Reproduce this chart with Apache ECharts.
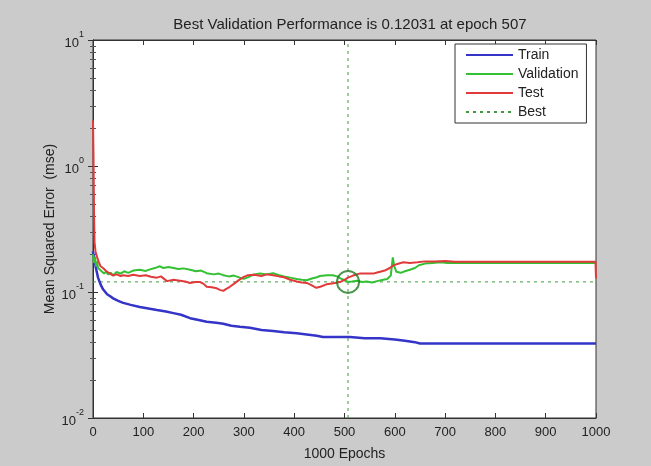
<!DOCTYPE html>
<html>
<head>
<meta charset="utf-8">
<script src="https://cdn.jsdelivr.net/npm/echarts@6/dist/echarts.min.js"></script>
<style>
html,body{margin:0;padding:0;background:#cbcbcb;}
#chart{width:651px;height:466px;}
</style>
</head>
<body>
<div id="chart"></div>
<script>
// ---- data (epoch, mse) ----
var titleText = 'Best Validation Performance is 0.12031 at epoch 507';
var xTicks = [0, 100, 200, 300, 400, 500, 600, 700, 800, 900, 1000];
var yTicks = [0.01, 0.1, 1, 10];
var bestEpoch = 507;
var bestValue = 0.12031;

var trainData = [[0,0.21],[5,0.16],[10,0.13],[15,0.115],[20,0.105],[28,0.096],[35,0.092],[40,0.089],[50,0.085],[60,0.082],[75,0.079],[93,0.076],[110,0.074],[127,0.072],[145,0.070],[160,0.068],[175,0.066],[193,0.062],[210,0.060],[226,0.058],[245,0.057],[259,0.056],[275,0.054],[292,0.053],[312,0.052],[335,0.050],[358,0.049],[380,0.048],[405,0.047],[425,0.046],[445,0.045],[457,0.044],[480,0.044],[511,0.044],[540,0.043],[571,0.043],[600,0.042],[620,0.041],[640,0.040],[650,0.039],[1000,0.039]];

var validData = [[0,0.2],[2,0.17],[4,0.19],[6,0.16],[8,0.175],[10,0.155],[14,0.15],[18,0.145],[22,0.14],[26,0.145],[30,0.138],[35,0.142],[40,0.136],[47,0.144],[55,0.14],[62,0.146],[70,0.142],[80,0.148],[93,0.15],[105,0.147],[115,0.152],[125,0.156],[133,0.16],[140,0.155],[150,0.158],[160,0.155],[170,0.152],[180,0.154],[193,0.15],[205,0.146],[215,0.148],[226,0.141],[240,0.138],[250,0.14],[259,0.136],[270,0.133],[280,0.135],[292,0.13],[300,0.127],[310,0.132],[320,0.138],[332,0.14],[345,0.138],[358,0.141],[370,0.136],[380,0.133],[392,0.13],[405,0.127],[415,0.125],[425,0.124],[435,0.128],[445,0.131],[451,0.134],[465,0.136],[477,0.136],[485,0.133],[491,0.129],[500,0.124],[507,0.12031],[515,0.121],[525,0.123],[535,0.12],[544,0.121],[555,0.119],[565,0.122],[577,0.125],[585,0.127],[592,0.135],[596,0.188],[599,0.16],[603,0.145],[612,0.142],[620,0.146],[630,0.15],[640,0.155],[648,0.163],[660,0.168],[675,0.17],[690,0.172],[705,0.17],[720,0.17],[1000,0.17]];

var testData = [[0,2.3],[1,1.2],[2,0.45],[3,0.25],[5,0.21],[8,0.19],[11,0.175],[15,0.16],[20,0.155],[25,0.148],[30,0.143],[34,0.14],[40,0.135],[47,0.138],[55,0.134],[60,0.136],[70,0.134],[80,0.137],[93,0.134],[105,0.136],[115,0.132],[127,0.13],[135,0.133],[147,0.122],[160,0.125],[173,0.123],[183,0.121],[193,0.118],[203,0.12],[213,0.12],[220,0.116],[226,0.11],[236,0.109],[246,0.107],[252,0.104],[259,0.102],[265,0.106],[272,0.11],[280,0.116],[292,0.126],[300,0.132],[308,0.136],[320,0.137],[335,0.134],[345,0.138],[358,0.136],[370,0.133],[380,0.131],[392,0.125],[405,0.121],[415,0.119],[425,0.118],[435,0.113],[444,0.108],[452,0.11],[464,0.115],[475,0.117],[491,0.12],[500,0.125],[507,0.13],[517,0.135],[530,0.14],[545,0.14],[557,0.14],[565,0.143],[571,0.145],[580,0.148],[590,0.155],[597,0.162],[605,0.167],[617,0.172],[630,0.17],[645,0.172],[660,0.175],[680,0.175],[700,0.176],[720,0.174],[999,0.174],[1000,0.128]];

// Best: horizontal line across the axis, break, then vertical line through the axis
var bestData = [[0,bestValue],[1000,bestValue],[bestEpoch,'-'],[bestEpoch,0.01],[bestEpoch,10]];

var FONT = 'Liberation Sans, Arial, sans-serif';
var chart = echarts.init(document.getElementById('chart'));

function supLabel(v){
  var e = Math.round(Math.log(v)/Math.LN10);
  return '{b|10}{s|' + e + '}';
}

var commonX = {
  type: 'value', min: 0, max: 1000, interval: 100,
  axisLine: {show: true, lineStyle: {color: '#333', width: 1}},
  axisTick: {show: true, inside: true, length: 5, lineStyle: {color: '#333'}},
  splitLine: {show: false}
};
var commonY = {
  type: 'log', logBase: 10, min: 0.01, max: 10,
  axisLine: {show: true, lineStyle: {color: '#333', width: 1}},
  axisTick: {show: true, inside: true, length: 5, lineStyle: {color: '#333'}},
  minorTick: {show: true, splitNumber: 9, length: 3, lineStyle: {color: '#555'}},
  splitLine: {show: false}
};

chart.setOption({
  backgroundColor: '#cbcbcb',
  animation: false,
  title: {
    text: titleText, left: 345, top: 12, textAlign: 'center',
    textStyle: {fontFamily: FONT, fontSize: 15, fontWeight: 'normal', color: '#222'}
  },
  grid: {left: 93, right: 55, top: 40, bottom: 48, show: true, backgroundColor: '#ffffff', borderColor: '#333', borderWidth: 1},
  legend: {
    orient: 'vertical', left: 455, top: 44,
    padding: [4, 8, 4, 10], itemGap: 5, itemWidth: 47, itemHeight: 16,
    backgroundColor: '#ffffff', borderColor: '#333', borderWidth: 1,
    itemStyle: {opacity: 0},
    textStyle: {fontFamily: FONT, fontSize: 14, color: '#222'},
    data: ['Train', 'Validation', 'Test', 'Best']
  },
  xAxis: [
    Object.assign({}, commonX, {
      position: 'bottom',
      axisLabel: {show: true, margin: 8, fontFamily: FONT, fontSize: 13, color: '#222',
        formatter: function(v){ return String(v); }},
      name: '1000 Epochs', nameLocation: 'middle', nameGap: 29,
      nameTextStyle: {fontFamily: FONT, fontSize: 14, color: '#222'}
    }),
    Object.assign({}, commonX, {position: 'top', axisLabel: {show: false}})
  ],
  yAxis: [
    Object.assign({}, commonY, {
      position: 'left',
      axisLabel: {
        show: true, margin: 9, formatter: supLabel,
        rich: {
          b: {fontFamily: FONT, fontSize: 13, color: '#222', lineHeight: 19, verticalAlign: 'bottom'},
          s: {fontFamily: FONT, fontSize: 9, color: '#222', lineHeight: 19, verticalAlign: 'top'}
        }
      },
      name: 'Mean Squared Error  (mse)', nameLocation: 'middle', nameGap: 36, nameMoveOverlap: false,
      nameTextStyle: {fontFamily: FONT, fontSize: 14, color: '#222'}
    }),
    Object.assign({}, commonY, {position: 'right', axisLabel: {show: false}})
  ],
  series: [
    {name: 'Train', type: 'line', data: trainData, symbol: 'none', xAxisIndex: 0, yAxisIndex: 0,
     lineStyle: {color: '#3434c8', width: 2.5}, itemStyle: {color: '#3434c8'}},
    {name: 'Validation', type: 'line', data: validData, symbol: 'none',
     lineStyle: {color: '#33c033', width: 2}, itemStyle: {color: '#33c033'}},
    {name: 'Test', type: 'line', data: testData, symbol: 'none',
     lineStyle: {color: '#e23a3a', width: 2}, itemStyle: {color: '#e23a3a'}},
    {name: 'Best', type: 'line', data: bestData, symbol: 'none', connectNulls: false,
     lineStyle: {color: '#3f9a3f', width: 1, type: [3, 4]}, itemStyle: {color: '#3f9a3f'}, z: 1},
    {name: 'BestPoint', type: 'scatter', data: [[bestEpoch, bestValue]], symbol: 'circle', symbolSize: 22,
     itemStyle: {color: 'rgba(0,0,0,0)', borderColor: '#1f7a1f', borderWidth: 2}, z: 5, silent: true}
  ]
});
</script>
</body>
</html>
